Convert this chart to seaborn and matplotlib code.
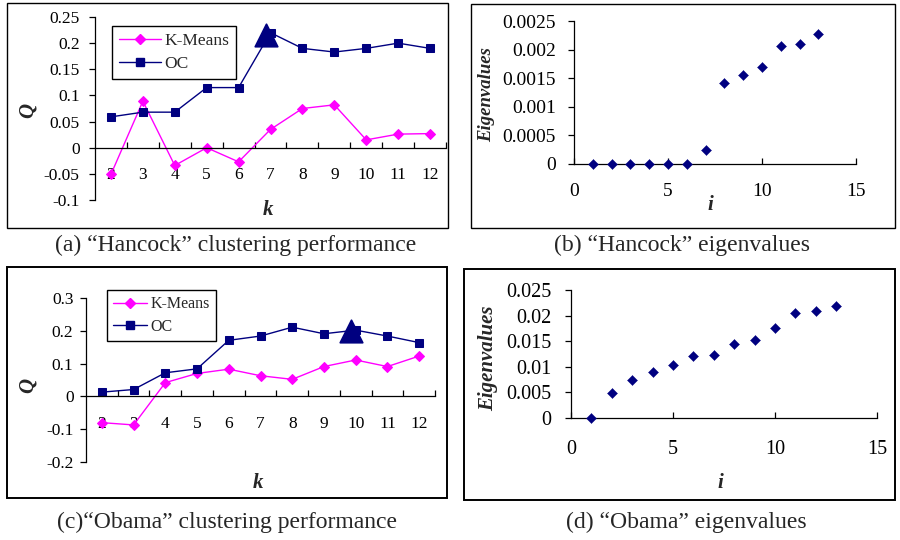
import numpy as np
import pandas as pd
import matplotlib
matplotlib.use("Agg")
import matplotlib.pyplot as plt
from matplotlib.lines import Line2D
from matplotlib.patches import Rectangle
import seaborn as sns

# ---------------- data ----------------
k_values = [2, 3, 4, 5, 6, 7, 8, 9, 10, 11, 12]
hancock_kmeans = [-0.051, 0.089, -0.034, 0.000, -0.027, 0.035, 0.075, 0.082, 0.015, 0.026, 0.027]
hancock_oc = [0.059, 0.068, 0.068, 0.115, 0.115, 0.220, 0.190, 0.183, 0.190, 0.200, 0.190]
hancock_peak_k = [6.85]
hancock_peak_q = [0.215]

obama_kmeans = [-0.080, -0.087, 0.042, 0.070, 0.083, 0.063, 0.052, 0.091, 0.111, 0.091, 0.123]
obama_oc = [0.013, 0.021, 0.072, 0.084, 0.171, 0.184, 0.211, 0.191, 0.202, 0.184, 0.164]
obama_peak_k = [9.85]
obama_peak_q = [0.199]

eig_index = [1, 2, 3, 4, 5, 6, 7, 8, 9, 10, 11, 12, 13]
hancock_eig = [0, 0, 0, 0, 0, 0, 0.00025, 0.00141, 0.00155, 0.0017, 0.00206, 0.0021, 0.00227]
obama_eig = [0, 0.0049, 0.0074, 0.0090, 0.0103, 0.0121, 0.0123, 0.0144, 0.0152, 0.0176, 0.0206, 0.0209, 0.0219]

series_names = ["K-Means", "OC"]
captions = ["(a) \u201cHancock\u201d clustering performance",
            "(b) \u201cHancock\u201d eigenvalues",
            "(c)\u201cObama\u201d clustering performance",
            "(d) \u201cObama\u201d eigenvalues"]

MAGENTA = "#FF00FF"
NAVY = "#000080"

sns.set_theme(style="white")
plt.rcParams["font.family"] = ["Liberation Serif", "DejaVu Serif"]

W, H = 900, 540
fig = plt.figure(figsize=(9, 5.4), dpi=100)
fig.patch.set_facecolor("white")


def px_axes(left, top, right, bottom):
    return fig.add_axes([left / W, 1 - bottom / H, (right - left) / W, (bottom - top) / H])


def frame(left, top, right, bottom, lw=1.0):
    fig.add_artist(Rectangle((left / W, 1 - bottom / H), (right - left) / W, (bottom - top) / H,
                             transform=fig.transFigure, fill=False, edgecolor="black", lw=lw))


def fmt(v):
    s = f"{v:.4f}".rstrip("0").rstrip(".")
    if s in ("-0", ""):
        s = "0"
    return s


def cluster_panel(box, ylim, ystep, km, oc, pk, pq, legend_xy, qpos, kpos, pad, ypad, tfs,
                  lgfs, lghl):
    ax = px_axes(*box)
    df = pd.DataFrame({"k": k_values * 2, "Q": km + oc,
                       "method": [series_names[0]] * len(k_values) + [series_names[1]] * len(k_values)})
    sns.lineplot(data=df[df.method == "K-Means"], x="k", y="Q", color=MAGENTA, marker="D",
                 markersize=5, markeredgecolor=MAGENTA, lw=1.0, ax=ax, legend=False)
    sns.lineplot(data=df[df.method == "OC"], x="k", y="Q", color=NAVY, marker="s",
                 markersize=6, markeredgecolor=NAVY, lw=1.0, ax=ax, legend=False)
    sns.scatterplot(x=pk, y=pq, marker="^", s=260, color=NAVY, edgecolor=NAVY, ax=ax,
                    legend=False, zorder=5)
    ax.set_xlim(1.5, 12.5)
    ax.set_ylim(*ylim)
    for s in ("top", "right"):
        ax.spines[s].set_visible(False)
    ax.spines["bottom"].set_position(("data", 0))
    for s in ("left", "bottom"):
        ax.spines[s].set_color("black")
        ax.spines[s].set_linewidth(0.9)
    yt = np.round(np.arange(ylim[0], ylim[1] + ystep / 2, ystep), 4)
    ax.set_yticks(yt)
    ax.set_yticklabels([fmt(v) for v in yt], fontsize=tfs)
    ax.set_xticks(k_values)
    ax.set_xticklabels([str(k) for k in k_values], fontsize=tfs)
    ax.set_xticks(np.arange(2.5, 12.6, 1.0), minor=True)
    ax.tick_params(axis="x", which="major", length=0, pad=pad, colors="black")
    ax.tick_params(axis="x", which="minor", direction="in", length=4, width=0.9, color="black", bottom=True)
    ax.tick_params(axis="y", which="major", direction="out", length=4, width=0.9, left=True,
                   colors="black", pad=ypad)
    ax.set_xlabel("k", fontsize=15, fontweight="bold", fontstyle="italic")
    ax.set_ylabel("Q", fontsize=15, fontweight="bold", fontstyle="italic")
    ax.xaxis.set_label_coords(kpos[0] / W, 1 - kpos[1] / H, transform=fig.transFigure)
    ax.yaxis.set_label_coords(qpos[0] / W, 1 - qpos[1] / H, transform=fig.transFigure)
    ax.xaxis.label.set_va("center")
    ax.yaxis.label.set_va("center")
    handles = [Line2D([], [], color=MAGENTA, marker="D", markersize=5, lw=1.0),
               Line2D([], [], color=NAVY, marker="s", markersize=6, lw=1.0)]
    leg = ax.legend(handles, series_names, loc="upper left",
                    bbox_to_anchor=(legend_xy[0] / W, 1 - legend_xy[1] / H),
                    bbox_transform=fig.transFigure, frameon=True, fancybox=False,
                    edgecolor="black", framealpha=1, fontsize=lgfs, borderaxespad=0,
                    handlelength=lghl, handletextpad=0.2, labelspacing=0.4, borderpad=0.4)
    leg.get_frame().set_linewidth(1.0)
    return ax


def eig_panel(box, ylim, ystep, vals, ipos, epos, pad, ypad, tfs, lfs):
    ax = px_axes(*box)
    sns.scatterplot(x=eig_index, y=vals, marker="D", s=26, color=NAVY, edgecolor=NAVY,
                    linewidth=0.3, ax=ax, legend=False, zorder=4, clip_on=False)
    ax.set_xlim(0, 15)
    ax.set_ylim(*ylim)
    for s in ("top", "right"):
        ax.spines[s].set_visible(False)
    for s in ("left", "bottom"):
        ax.spines[s].set_color("black")
        ax.spines[s].set_linewidth(0.9)
    yt = np.round(np.arange(ylim[0], ylim[1] + ystep / 2, ystep), 5)
    ax.set_yticks(yt)
    ax.set_yticklabels([fmt(v) for v in yt], fontsize=tfs)
    ax.set_xticks([0, 5, 10, 15])
    ax.set_xticklabels(["0", "5", "10", "15"], fontsize=tfs)
    ax.tick_params(axis="x", direction="in", length=4, width=0.9, bottom=True, pad=pad, colors="black")
    ax.tick_params(axis="y", direction="out", length=4, width=0.9, left=True, pad=ypad, colors="black")
    ax.set_xlabel("i", fontsize=15, fontweight="bold", fontstyle="italic")
    ax.set_ylabel("Eigenvalues", fontsize=lfs, fontweight="bold", fontstyle="italic")
    ax.xaxis.set_label_coords(ipos[0] / W, 1 - ipos[1] / H, transform=fig.transFigure)
    ax.yaxis.set_label_coords(epos[0] / W, 1 - epos[1] / H, transform=fig.transFigure)
    ax.xaxis.label.set_va("center")
    ax.yaxis.label.set_va("center")
    return ax


# frames
frame(7, 3, 448, 228)
frame(471, 4, 895, 228)
frame(7, 267, 447, 498, lw=1.4)
frame(464, 269, 895, 500, lw=1.4)

cluster_panel((95, 17, 446, 200), (-0.1, 0.25), 0.05, hancock_kmeans, hancock_oc,
              hancock_peak_k, hancock_peak_q, (112, 26), (28, 110), (268, 210), 14, 7, 12.5,
              12.5, 2.4)
cluster_panel((86, 298, 435, 462), (-0.2, 0.3), 0.1, obama_kmeans, obama_oc,
              obama_peak_k, obama_peak_q, (107, 290), (28, 385), (258, 483), 14, 5, 12.5,
              11.5, 2.1)
eig_panel((574, 21, 856, 164), (0, 0.0025), 0.0005, hancock_eig, (710, 205), (487, 95), 14, 9, 14, 13.5)
eig_panel((571, 290, 877, 418), (0, 0.025), 0.005, obama_eig, (720, 483), (488, 358), 16, 10, 14.5, 15)

cap_pos = [(236, 245), (682, 245), (227, 522), (686, 522)]
for (cx, cy), txt in zip(cap_pos, captions):
    fig.text(cx / W, 1 - cy / H, txt, ha="center", va="center", fontsize=17)

fig.savefig("out.png", dpi=100, facecolor="white")
